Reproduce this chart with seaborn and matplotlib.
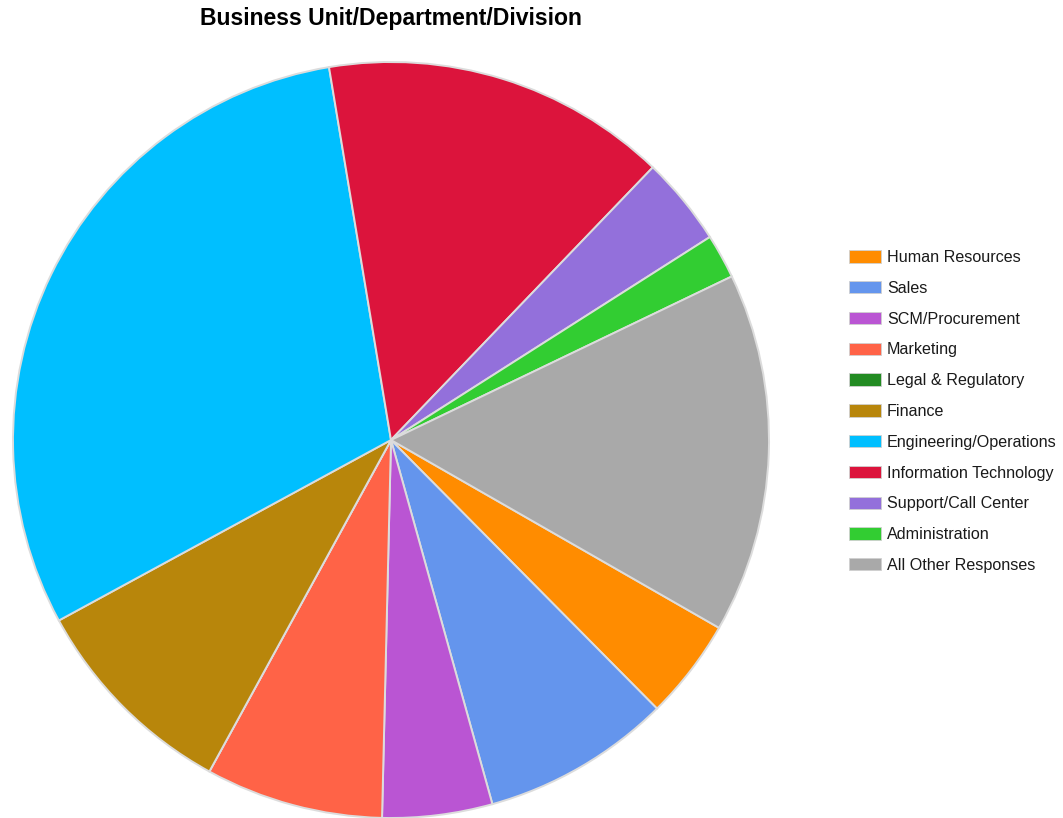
import matplotlib
matplotlib.use("Agg")
import matplotlib.pyplot as plt
from matplotlib.patches import Rectangle
import seaborn as sns

categories = [
    "Human Resources", "Sales", "SCM/Procurement", "Marketing",
    "Legal & Regulatory", "Finance", "Engineering/Operations",
    "Information Technology", "Support/Call Center", "Administration",
    "All Other Responses",
]
shares = [4.3, 8.1, 4.7, 7.6, 0.0, 9.1, 30.3, 14.8, 3.8, 1.9, 15.4]
colors = [
    "#FF8C00", "#6495ED", "#BA55D3", "#FF6347", "#228B22", "#B8860B",
    "#00BFFF", "#DC143C", "#9370DB", "#32CD32", "#A9A9A9",
]
title = "Business Unit/Department/Division"

sns.set_theme(style="white")
plt.rcParams["font.family"] = ["Liberation Sans", "DejaVu Sans"]
palette = sns.color_palette(colors)

W, H = 1063, 818
fig = plt.figure(figsize=(W / 100, H / 100), dpi=100)
fig.patch.set_facecolor("white")

# pie axes: square region in pixel units
cx, cy, r = 391, 440, 378
ax = fig.add_axes([(cx - r) / W, (H - cy - r) / H, 2 * r / W, 2 * r / H])
ax.pie(
    shares,
    colors=palette,
    startangle=-29.8,
    counterclock=False,
    radius=1.0,
    wedgeprops=dict(edgecolor="#dcdcdc", linewidth=1.4),
)
ax.set_xlim(-1, 1)
ax.set_ylim(-1, 1)
ax.set_aspect("equal")
ax.axis("off")

fig.text(391 / W, 1 - 19 / H, title, ha="center", va="center",
         fontsize=16.6, fontweight="bold", color="#000000")

fs = 11.6
fpx = fs * 100 / 72
handles = [Rectangle((0, 0), 1, 1, facecolor=c, edgecolor="#d0d0d0", linewidth=0.6)
           for c in palette]
fig.legend(
    handles, categories,
    loc="upper left",
    bbox_to_anchor=(849 / W, 1 - 250 / H),
    frameon=False,
    fontsize=fs,
    handlelength=32 / fpx,
    handleheight=13 / fpx,
    handletextpad=6 / fpx,
    labelspacing=0.98,
    borderpad=0,
    borderaxespad=0,
    labelcolor="#1a1a1a",
)

fig.savefig("out.png", dpi=100, facecolor="white")
